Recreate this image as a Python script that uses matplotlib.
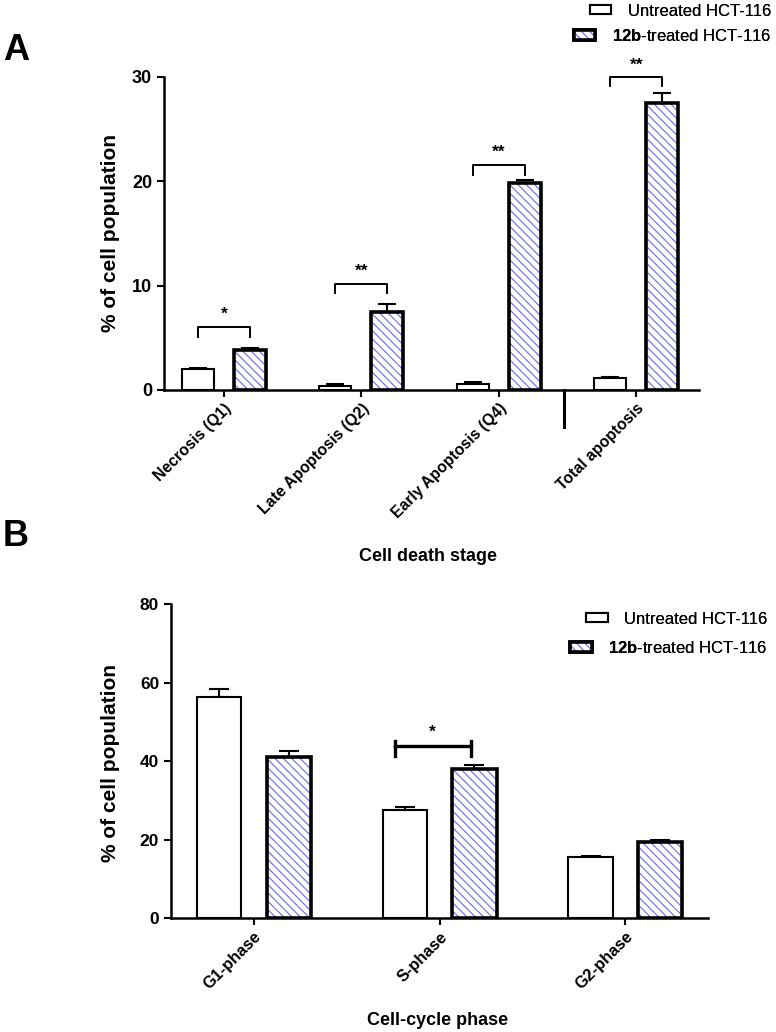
import matplotlib
matplotlib.use('Agg')
import matplotlib.pyplot as plt
from matplotlib.patches import Patch
from matplotlib.legend_handler import HandlerTuple
from matplotlib import font_manager
import numpy as np

# fonts
names = set(f.name for f in font_manager.fontManager.ttflist)
narrow = 'Liberation Sans Narrow' if 'Liberation Sans Narrow' in names else 'Liberation Sans'
plt.rcParams['font.family'] = ['Liberation Sans', 'DejaVu Sans']
plt.rcParams['mathtext.fontset'] = 'custom'
plt.rcParams['mathtext.rm'] = 'Liberation Sans'
plt.rcParams['mathtext.bf'] = 'Liberation Sans:bold'
plt.rcParams['hatch.linewidth'] = 0.8

# ---- data: panel A (cell death) ----
stages = ['Necrosis (Q1)', 'Late Apoptosis (Q2)', 'Early Apoptosis (Q4)', 'Total apoptosis']
untreated_a = [1.98, 0.41, 0.60, 1.12]
untreated_a_err = [0.15, 0.15, 0.13, 0.16]
treated_a = [3.83, 7.5, 19.85, 27.5]
treated_a_err = [0.15, 0.75, 0.25, 1.0]
sig_a = ['*', '**', '**', '**']
bracket_a = [6.07, 10.2, 21.6, 30.0]
bracket_a_drop = [5.1, 9.27, 20.6, 29.1]

# ---- data: panel B (cell cycle) ----
phases = ['G1-phase', 'S-phase', 'G2-phase']
untreated_b = [56.4, 27.6, 15.5]
untreated_b_err = [1.9, 0.8, 0.4]
treated_b = [41.1, 38.1, 19.3]
treated_b_err = [1.5, 1.0, 0.5]
sig_b_idx = 1
bracket_b = 43.9
bracket_b_drop = 41.4

hatch_col = '#6a6ae8'
lbl_u = 'Untreated HCT-116'
lbl_t = r'$\mathbf{12b}$-treated HCT-116'

fig = plt.figure(figsize=(7.76, 10.32), dpi=100)
axA = fig.add_axes([0.2113, 0.6221, 0.6894, 0.3033])
axB = fig.add_axes([0.2204, 0.1102, 0.692, 0.3046])


def draw_bars(ax, n, unt, unt_err, trt, trt_err, off, w, cap):
    x = np.arange(n)
    ax.bar(x - off, unt, w, facecolor='white', edgecolor='black', linewidth=1.5, zorder=3)
    ax.bar(x + off, trt, w, facecolor='white', edgecolor=hatch_col, linewidth=0,
           hatch='\\\\\\\\', zorder=3)
    ax.bar(x + off, trt, w, fill=False, edgecolor='black', linewidth=2.6, zorder=4)
    ax.errorbar(x - off, unt, yerr=[np.zeros(n), unt_err], fmt='none', ecolor='black',
                elinewidth=1.5, capsize=cap, capthick=1.5, zorder=2)
    ax.errorbar(x + off, trt, yerr=[np.zeros(n), trt_err], fmt='none', ecolor='black',
                elinewidth=1.5, capsize=cap, capthick=1.5, zorder=2)
    return x


def style(ax):
    for s in ['top', 'right']:
        ax.spines[s].set_visible(False)
    for s in ['left', 'bottom']:
        ax.spines[s].set_linewidth(1.8)
    ax.tick_params(axis='y', length=5, width=1.5, direction='out')
    ax.tick_params(axis='x', length=5, width=1.5, direction='out', pad=3)


# ---- panel A ----
offA, wA = 0.189, 0.233
xA = draw_bars(axA, 4, untreated_a, untreated_a_err, treated_a, treated_a_err, offA, wA, 6.5)
axA.set_xlim(-0.436, 3.455)
axA.set_ylim(0, 30)
axA.set_yticks([0, 10, 20, 30])
style(axA)
axA.set_xticks(xA)
axA.set_xticklabels(stages, rotation=45, ha='right', rotation_mode='anchor',
                    fontsize=11.3, fontweight='bold')
for t in axA.get_yticklabels():
    t.set_fontfamily(narrow)
    t.set_fontweight('bold')
    t.set_fontsize(13)
for i in range(4):
    x0, x1 = xA[i] - offA, xA[i] + offA
    axA.plot([x0, x0, x1, x1], [bracket_a_drop[i], bracket_a[i], bracket_a[i], bracket_a_drop[i]],
             color='black', lw=1.4, clip_on=False, zorder=5)
    axA.text(xA[i], bracket_a[i] + 0.45, sig_a[i], ha='center', va='bottom',
             fontsize=12.5, fontweight='bold', fontfamily=narrow, clip_on=False)
# stray vertical mark below the axis
axA.plot([2.47, 2.47], [0, -3.5], color='black', lw=2.2, clip_on=False)
axA.set_ylabel('% of cell population', fontsize=15, fontweight='bold')
axA.yaxis.set_label_coords(-0.082, 0.5)
axA.set_xlabel('Cell death stage', fontsize=13, fontweight='bold', fontfamily=narrow)
axA.xaxis.set_label_coords(0.493, -0.505)

# ---- panel B ----
offB, wB = 0.188, 0.237
xB = draw_bars(axB, 3, untreated_b, untreated_b_err, treated_b, treated_b_err, offB, wB, 7)
axB.set_xlim(-0.444, 2.444)
axB.set_ylim(0, 80)
axB.set_yticks([0, 20, 40, 60, 80])
style(axB)
axB.set_xticks(xB)
axB.set_xticklabels(phases, rotation=45, ha='right', rotation_mode='anchor',
                    fontsize=11.8, fontweight='bold')
for t in axB.get_yticklabels():
    t.set_fontfamily(narrow)
    t.set_fontweight('bold')
    t.set_fontsize(12.5)
x0, x1 = xB[sig_b_idx] - offB - 0.05, xB[sig_b_idx] + offB - 0.02
axB.plot([x0, x0], [bracket_b_drop, bracket_b + 1.2], color='black', lw=2.4)
axB.plot([x1, x1], [bracket_b_drop, bracket_b + 1.2], color='black', lw=2.4)
axB.plot([x0, x1], [bracket_b, bracket_b], color='black', lw=2.4)
axB.text(xB[sig_b_idx] - 0.04, bracket_b + 1.6, '*', ha='center', va='bottom',
         fontsize=12.5, fontweight='bold', fontfamily=narrow)
axB.set_ylabel('% of cell population', fontsize=15, fontweight='bold')
axB.yaxis.set_label_coords(-0.095, 0.494)
axB.set_xlabel('Cell-cycle phase', fontsize=13, fontweight='bold', fontfamily=narrow)
axB.xaxis.set_label_coords(0.497, -0.298)

# ---- legends ----
h_u = Patch(facecolor='white', edgecolor='black', linewidth=1.5)
h_t = (Patch(facecolor='white', edgecolor=hatch_col, linewidth=0, hatch='\\\\\\\\'),
       Patch(facecolor='none', edgecolor='black', linewidth=2.6))
leg_kw = dict(frameon=False, loc='center right', borderpad=0, borderaxespad=0,
              handlelength=1.3, handleheight=0.5, handletextpad=1.0, fontsize=12,
              handler_map={tuple: HandlerTuple(ndivide=1)})
for (h, l, y, xr) in [(h_u, lbl_u, 1 - 11 / 1032, 0.994), (h_t, lbl_t, 1 - 36 / 1032, 0.994),
                      (h_u, lbl_u, 1 - 619 / 1032, 0.989), (h_t, lbl_t, 1 - 648 / 1032, 0.989)]:
    lg = fig.legend([h], [l], bbox_to_anchor=(xr, y), **leg_kw)
    fig.add_artist(lg)

fig.text(0.004, 1 - 50 / 1032, 'A', fontsize=26, fontweight='bold', fontfamily=narrow, va='center')
fig.text(0.004, 1 - 537 / 1032, 'B', fontsize=26, fontweight='bold', fontfamily=narrow, va='center')

fig.savefig('out.png', dpi=100)
